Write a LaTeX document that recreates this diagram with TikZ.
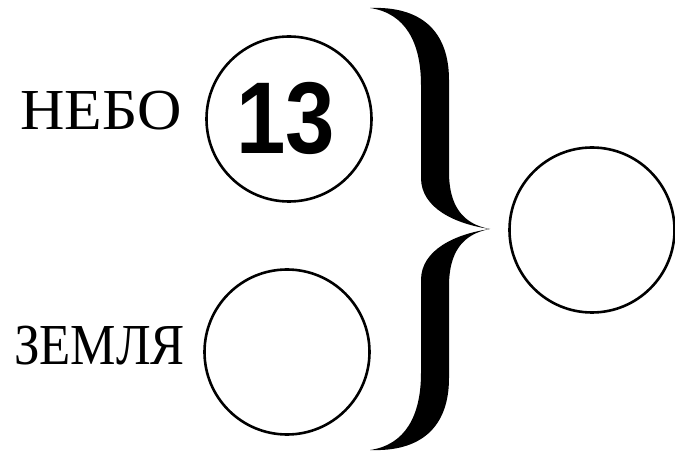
\documentclass[tikz,border=0pt]{standalone}
\usepackage{fontspec}
\setmainfont{Liberation Serif}
\newfontfamily\numfont{Liberation Sans}
\tikzset{
  ring/.style={circle, draw=black, line width=2.6pt, minimum size=165pt, inner sep=0pt},
  label/.style={font=\fontsize{58}{60}\selectfont, inner sep=0pt},
  num/.style={font=\numfont\bfseries\fontsize{102}{104}\selectfont, inner sep=0pt}
}
\begin{document}
\begin{tikzpicture}[x=1pt,y=-1pt]
\useasboundingbox (0,0) rectangle (675,454);
\node[ring] (sky) at (289,119) {};
\node[num] (n13) at (286,118) {\scalebox{0.87}[1]{13}};
\node[ring] (earth) at (287,352) {};
\node[ring] (res) at (592,230) {};
\node[label, anchor=base east] (lsky) at (182,130) {\scalebox{1.06}[1]{НЕБО}};
\node[label, anchor=base east] (learth) at (185,365) {\scalebox{0.88}[1]{ЗЕМЛЯ}};
% brace
\fill (370,8) .. controls (420,6) and (449,30) .. (449,80) -- (449,172)
  .. controls (449,205) and (462,224) .. (490,229)
  .. controls (455,224) and (421,208) .. (421,178) -- (421,85)
  .. controls (421,42) and (405,13) .. (370,8) -- cycle;
\fill (370,450) .. controls (420,452) and (449,428) .. (449,378) -- (449,286)
  .. controls (449,253) and (462,234) .. (490,229)
  .. controls (455,234) and (421,250) .. (421,280) -- (421,373)
  .. controls (421,416) and (405,445) .. (370,450) -- cycle;
\end{tikzpicture}
\end{document}
